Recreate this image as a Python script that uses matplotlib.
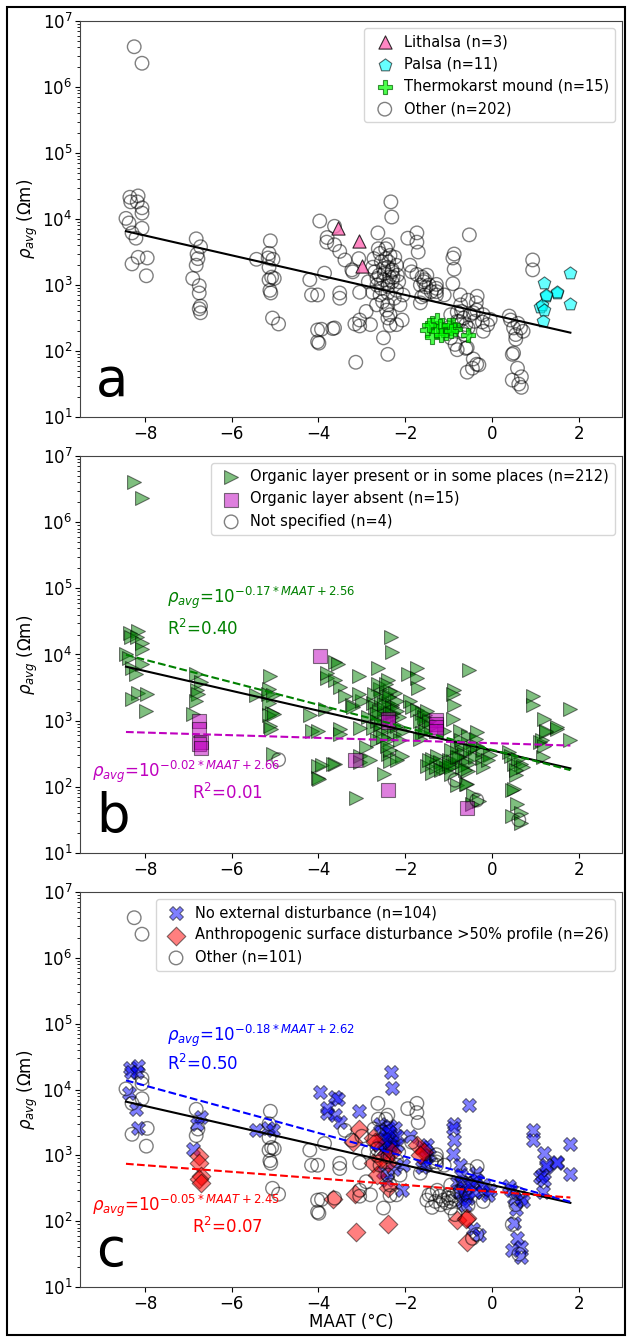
import numpy as np
import matplotlib
matplotlib.use("Agg")
import matplotlib.pyplot as plt
from matplotlib.patches import Rectangle

# MAAT (degC) per site, grouped by MAAT band
maat = [
    -8.25, -8.07, -8.35, -8.16, -8.33, -8.18, -8.07, -8.07, -8.44, -8.37, -8.07, -8.30, -8.21, -8.16, -7.95, -8.30, -7.97,
    -6.82, -6.72, -6.80, -6.78, -6.82, -6.90, -6.75, -6.75, -6.72, -6.75, -6.72,
    -5.43, -5.11, -5.14, -5.16, -5.05, -5.14, -5.08, -5.14, -5.02, -5.12, -5.10, -5.06, -4.92,
    -4.20, -4.16, -4.02, -3.97, -4.02, -4.02, -3.99, -3.93, -3.81, -3.63, -3.63, -3.56, -3.51, -3.39, -3.23,
    -3.86, -3.51, -3.51, -3.63, -3.16, -3.05, -3.05, -3.14, -3.21, -3.07, -3.00, -3.67, -3.07, -3.05, -3.80,
    -2.33, -2.31, -2.63, -2.40, -2.58, -2.24, -2.75, -2.70, -2.40, -2.30,
    -2.50, -2.40, -2.40, -2.75, -2.58, -2.40, -2.25, -2.66, -2.40, -2.05,
    -2.40, -2.40, -2.35, -2.07, -2.35, -2.55, -2.45, -2.35, -2.20, -2.60,
    -2.28, -2.15, -2.48, -2.38, -2.65, -2.20, -2.55, -2.30, -2.62, -2.45,
    -2.30, -2.18, -2.50, -2.36, -2.65, -2.12, -2.72, -2.85, -2.52, -2.43,
    -2.90, -2.80, -2.20, -2.50,
    -1.94, -1.73, -1.73, -1.70, -1.89, -1.85, -1.61, -1.55, -1.52, -1.62,
    -1.28, -1.28, -1.28, -1.28, -1.65, -1.73, -1.57, -1.65, -1.50, -1.45,
    -1.40, -1.10, -1.55,
    -1.38, -1.50, -1.38, -1.26, -1.12, -1.05, -0.89, -0.85, -0.55, -1.20, -1.30, -1.45, -1.00, -1.18, -0.95,
    -0.52, -0.87, -0.90, -0.87, -0.90, -0.73, -0.80, -0.55, -0.34, -0.36,
    -0.43, -0.22, -0.04, -0.20, -0.80, -0.57, -0.43, -0.30, -0.57, -0.45,
    -0.60, -0.70, -0.65, -0.60, -0.75, -0.50, -0.55, -0.68, -0.40, -0.95,
    -1.00, -0.95, -0.80, -0.62, -0.35, -0.20, -0.72, -0.10, -0.35, -0.85,
    0.40, 0.50, 0.66, 0.55, 0.50, 0.47, 0.59, 0.68, 0.47, 0.68, 0.43, 0.60, 0.72, 0.55, 0.62,
    1.21, 1.81, 1.24, 1.51, 1.81, 1.12, 1.19, 1.50, 1.15, 1.24, 1.20, 0.94, 0.94,
]

# log10 of average resistivity (Ohm m), same order as maat
log_rho = [
    6.61, 6.36, 4.33, 4.35, 4.26, 4.26, 4.17, 4.09, 4.01, 3.94, 3.86, 3.79, 3.71, 3.42, 3.41, 3.32, 3.14,
    3.70, 3.58, 3.47, 3.40, 3.30, 3.10, 2.99, 2.88, 2.68, 2.64, 2.58,
    3.39, 3.67, 3.48, 3.41, 3.39, 3.27, 3.12, 3.08, 3.10, 2.92, 2.88, 2.50, 2.41,
    3.08, 2.85, 2.85, 3.97, 2.32, 2.14, 2.12, 2.33, 3.65, 3.89, 3.61, 3.86, 3.51, 3.38, 3.23,
    3.18, 2.88, 2.80, 2.35, 2.41, 2.47, 2.38, 1.83, 3.20, 3.67, 3.29, 2.34, 3.40, 2.89, 3.72,
    4.26, 4.03, 3.79, 3.61, 3.48, 3.42, 3.27, 3.20, 3.27, 3.23,
    3.08, 3.03, 2.98, 2.89, 2.85, 2.88, 2.80, 2.70, 2.70, 2.85,
    2.50, 1.95, 2.39, 2.47, 2.55, 3.35, 3.40, 3.45, 3.30, 3.15,
    3.12, 3.05, 3.18, 3.35, 3.00, 2.92, 2.95, 3.05, 3.55, 3.55,
    3.20, 3.15, 3.25, 3.12, 3.10, 2.70, 3.40, 3.05, 2.75, 2.62,
    2.60, 2.40, 2.40, 2.20,
    3.71, 3.79, 3.65, 3.50, 3.30, 3.20, 3.12, 3.08, 2.97, 2.82,
    3.01, 2.95, 2.90, 2.85, 2.73, 3.16, 3.05, 3.00, 3.15, 3.00,
    2.90, 2.85, 2.85,
    2.42, 2.32, 2.21, 2.47, 2.32, 2.28, 2.39, 2.33, 2.24, 2.38, 2.30, 2.40, 2.40, 2.25, 2.30,
    3.76, 3.47, 3.41, 3.24, 3.02, 2.85, 2.59, 2.77, 2.83, 2.73,
    2.58, 2.44, 2.48, 2.30, 2.02, 2.05, 1.88, 1.79, 1.68, 1.74,
    2.04, 2.60, 2.50, 2.40, 2.45, 2.55, 2.35, 2.30, 2.45, 2.55,
    2.35, 2.20, 2.45, 2.25, 2.62, 2.55, 2.70, 2.40, 1.80, 2.10,
    2.53, 2.35, 2.35, 2.18, 1.97, 1.95, 1.74, 1.61, 1.56, 1.45, 2.47, 2.42, 2.30, 2.25, 1.50,
    3.03, 3.18, 2.83, 2.88, 2.71, 2.67, 2.45, 2.90, 2.70, 2.85, 2.62, 3.38, 3.23,
]

# landform per band: l = lithalsa, p = palsa, t = thermokarst mound, o = other
landform = "".join([
    "o" * 17,
    "o" * 11,
    "o" * 13,
    "o" * 11 + "l" + "o" * 12 + "ll" + "o" * 4,
    "o" * 54,
    "o" * 23 + "t" * 15,
    "o" * 40,
    "o" * 15,
    "p" * 11 + "oo",
])
# organic layer: p = present/in places, a = absent, n = not specified
organic = "".join([
    "p" * 17,
    "p" * 6 + "a" * 5,
    "p" * 12 + "n",
    "ppp" + "a" + "p" * 15 + "a" + "p" * 10,
    "p" * 11 + "aa" + "p" * 8 + "a" + "p" * 32,
    "p" * 10 + "aaaa" + "p" * 24,
    "p" * 18 + "a" + "p" * 19 + "nn",
    "p" * 14 + "n",
    "p" * 13,
])
# disturbance: n = no external, a = anthropogenic >50% profile, o = other
disturb = "".join([
    "oonnnnooonoonnooo",
    "onnoonaaaaa",
    "noonnoooooooo",
    "ooonoooonnnnnooooooaooaanoaaon",
    "nnoonnaann" + "nnoaoanaon" + "aaononnnnn" + "nonnooaaoo" + "nnnnoooonn" + "oooo",
    "oooononnnn" + "oooooaaann" + "oon" + "o" * 15,
    "nnnnnnnoon" + "nnnoaannao" + "annnnnnnno" + "ooonnnnnoo",
    "nnnnnonnnnnonoo",
    "n" * 13,
])

# regression coefficients (slope, intercept) of log10(rho) vs MAAT
fit_all = (-0.15, 2.55)
fit_org_present = (-0.17, 2.56)
fit_org_absent = (-0.02, 2.66)
fit_no_dist = (-0.18, 2.62)
fit_anthro = (-0.05, 2.45)

x = np.array(maat)
rho = 10 ** np.array(log_rho)
land = np.array(list(landform))
org = np.array(list(organic))
dist = np.array(list(disturb))

fig = plt.figure(figsize=(6.28, 13.38), dpi=100)
fig.patches.append(Rectangle((0.011, 0.002), 0.985, 0.993, transform=fig.transFigure,
                             fill=False, edgecolor="k", lw=1.5))

boxes = [[0.1274, 0.6883, 0.863, 0.296],
         [0.1274, 0.3625, 0.863, 0.2967],
         [0.1274, 0.0381, 0.863, 0.2952]]
axes = [fig.add_axes(b) for b in boxes]

xfit = np.array([x.min(), x.max()])


def line(ax, coef, **kw):
    ax.plot(xfit, 10 ** (coef[0] * xfit + coef[1]), **kw)


def circles(ax, m, label):
    return ax.scatter(x[m], rho[m], s=95, facecolors="none", edgecolors="k",
                      linewidths=1, alpha=0.5, label=label)


# panel a: landforms
ax = axes[0]
h_other = circles(ax, land == "o", "Other (n=%d)" % np.sum(land == "o"))
m = land == "l"
h_lit = ax.scatter(x[m], rho[m], s=90, marker="^", c="hotpink", edgecolors="k",
                   linewidths=0.8, alpha=0.8, label="Lithalsa (n=%d)" % m.sum())
m = land == "p"
h_pal = ax.scatter(x[m], rho[m], s=90, marker="p", c="cyan", edgecolors="k",
                   linewidths=0.8, alpha=0.6, label="Palsa (n=%d)" % m.sum())
m = land == "t"
h_thk = ax.scatter(x[m], rho[m], s=90, marker="P", c="lime", edgecolors="darkgreen",
                   linewidths=0.8, alpha=0.7, label="Thermokarst mound (n=%d)" % m.sum())
line(ax, fit_all, color="k", lw=1.5)
ax.legend(handles=[h_lit, h_pal, h_thk, h_other], loc="upper right", fontsize=10.5,
          scatterpoints=1, handletextpad=0.3, borderpad=0.4)

# panel b: organic layer
ax = axes[1]
m = org == "p"
h_op = ax.scatter(x[m], rho[m], s=100, marker=">", c="green", edgecolors="k",
                  linewidths=0.8, alpha=0.5,
                  label="Organic layer present or in some places (n=%d)" % m.sum())
m = org == "a"
h_oa = ax.scatter(x[m], rho[m], s=90, marker="s", c="m", edgecolors="k",
                  linewidths=0.8, alpha=0.5, label="Organic layer absent (n=%d)" % m.sum())
h_on = circles(ax, org == "n", "Not specified (n=%d)" % np.sum(org == "n"))
line(ax, fit_all, color="k", lw=1.5)
line(ax, fit_org_present, color="green", lw=1.5, ls="--")
line(ax, fit_org_absent, color="m", lw=1.5, ls="--")
ax.legend(handles=[h_op, h_oa, h_on], loc="upper right", fontsize=10.5,
          scatterpoints=1, handletextpad=0.3, borderpad=0.4)
ax.text(-7.5, 10 ** 4.78, r"$\rho_{avg}$=10$^{-0.17*MAAT+2.56}$", color="green", fontsize=12)
ax.text(-7.5, 10 ** 4.3, r"R$^2$=0.40", color="green", fontsize=12)
ax.text(-9.23, 10 ** 2.15, r"$\rho_{avg}$=10$^{-0.02*MAAT+2.66}$", color="m", fontsize=12)
ax.text(-6.91, 10 ** 1.82, r"R$^2$=0.01", color="m", fontsize=12)

# panel c: disturbance
ax = axes[2]
m = dist == "n"
h_dn = ax.scatter(x[m], rho[m], s=100, marker="X", c="blue", edgecolors="k",
                  linewidths=0.8, alpha=0.5, label="No external disturbance (n=%d)" % m.sum())
m = dist == "a"
h_da = ax.scatter(x[m], rho[m], s=90, marker="D", c="red", edgecolors="k",
                  linewidths=0.8, alpha=0.5,
                  label="Anthropogenic surface disturbance >50%% profile (n=%d)" % m.sum())
h_do = circles(ax, dist == "o", "Other (n=%d)" % np.sum(dist == "o"))
line(ax, fit_all, color="k", lw=1.5)
line(ax, fit_no_dist, color="blue", lw=1.5, ls="--")
line(ax, fit_anthro, color="red", lw=1.5, ls="--")
ax.legend(handles=[h_dn, h_da, h_do], loc="upper right", fontsize=10.5,
          scatterpoints=1, handletextpad=0.3, borderpad=0.4)
ax.text(-7.5, 10 ** 4.74, r"$\rho_{avg}$=10$^{-0.18*MAAT+2.62}$", color="blue", fontsize=12)
ax.text(-7.5, 10 ** 4.3, r"R$^2$=0.50", color="blue", fontsize=12)
ax.text(-9.23, 10 ** 2.15, r"$\rho_{avg}$=10$^{-0.05*MAAT+2.45}$", color="red", fontsize=12)
ax.text(-6.91, 10 ** 1.82, r"R$^2$=0.07", color="red", fontsize=12)
ax.set_xlabel("MAAT (°C)", fontsize=12, labelpad=0)

for ax, letter in zip(axes, "abc"):
    ax.set_yscale("log")
    ax.set_ylim(10, 1e7)
    ax.set_xlim(-9.5, 3.0)
    ax.set_xticks([-8, -6, -4, -2, 0, 2])
    ax.tick_params(labelsize=12, pad=2)
    ax.set_ylabel(r"$\rho_{avg}$ ($\Omega$m)", fontsize=12, labelpad=2)
    for s in ax.spines.values():
        s.set_color("#444444")
    ax.text(0.03, 0.025, letter, transform=ax.transAxes, fontsize=38, va="bottom")

fig.savefig("out.png", dpi=100)
